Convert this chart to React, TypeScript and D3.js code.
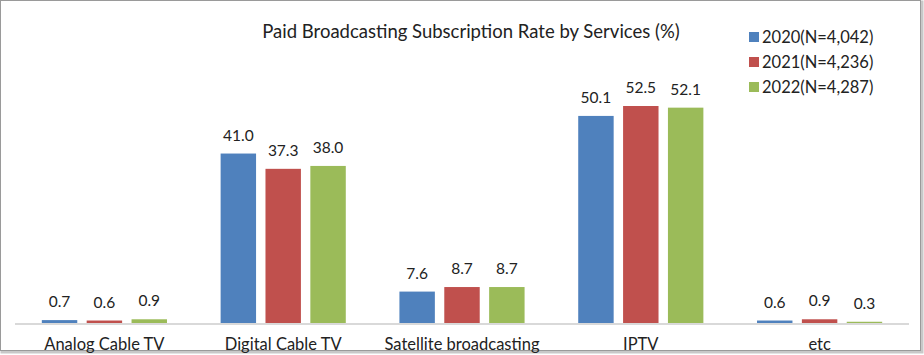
import React from "react";
import * as d3 from "d3";

const categories = ["Analog Cable TV", "Digital Cable TV", "Satellite broadcasting", "IPTV", "etc"];
const seriesNames = ["2020(N=4,042)", "2021(N=4,236)", "2022(N=4,287)"];
const values2020 = [0.7, 41.0, 7.6, 50.1, 0.6];
const values2021 = [0.6, 37.3, 8.7, 52.5, 0.9];
const values2022 = [0.9, 38.0, 8.7, 52.1, 0.3];
const colors = ["#4f81bd", "#c0504d", "#9bbb59"];
const title = "Paid Broadcasting Subscription Rate by Services (%)";

const W = 924, H = 355;
const FONT = "Lato, 'Open Sans', sans-serif";

export default function App() {
  const series = [values2020, values2021, values2022];
  const x0 = d3.scaleBand<string>().domain(categories).range([15, 909]).paddingInner(0.3).paddingOuter(0.15);
  const x1 = d3.scaleBand<number>().domain([0, 1, 2]).range([0, x0.bandwidth()]).paddingInner(0.21);
  const y = d3.scaleLinear().domain([0, 52.5]).range([323, 106]);

  return (
    <svg width={W} height={H} style={{ position: "absolute", left: 0, top: 0, background: "#fff" }} fontFamily={FONT}>
      <rect x={0} y={0} width={W} height={H} fill="#fff" />
      <rect x={2} y={2} width={920} height={350} fill="none" stroke="#c8c8c8" strokeWidth={3} />
      <rect x={0.5} y={0.5} width={920} height={350} fill="#fff" stroke="#9a9a9a" strokeWidth={1} />
      <text x={471} y={38} textAnchor="middle" fontSize={18.5} fill="#222">{title}</text>
      {categories.map((c, i) => (
        <g key={c}>
          {series.map((vals, s) => {
            const bx = (x0(c) as number) + (x1(s) as number);
            const bw = x1.bandwidth();
            return (
              <g key={s}>
                <rect x={bx} y={y(vals[i])} width={bw} height={y(0) - y(vals[i])} fill={colors[s]} />
                <text x={bx + bw / 2} y={y(vals[i]) - 13} textAnchor="middle" fontSize={15.5} fill="#222">
                  {vals[i].toFixed(1)}
                </text>
              </g>
            );
          })}
          <text x={(x0(c) as number) + x0.bandwidth() / 2} y={350} textAnchor="middle" fontSize={16.5} fill="#222">
            {c}
          </text>
        </g>
      ))}
      <line x1={15} x2={909} y1={324} y2={324} stroke="#d9d9d9" strokeWidth={2} />
      {seriesNames.map((n, s) => (
        <g key={n}>
          <rect x={749} y={32 + s * 25} width={10} height={10} fill={colors[s]} />
          <text x={762} y={43 + s * 25} fontSize={16.5} fill="#222">{n}</text>
        </g>
      ))}
    </svg>
  );
}
